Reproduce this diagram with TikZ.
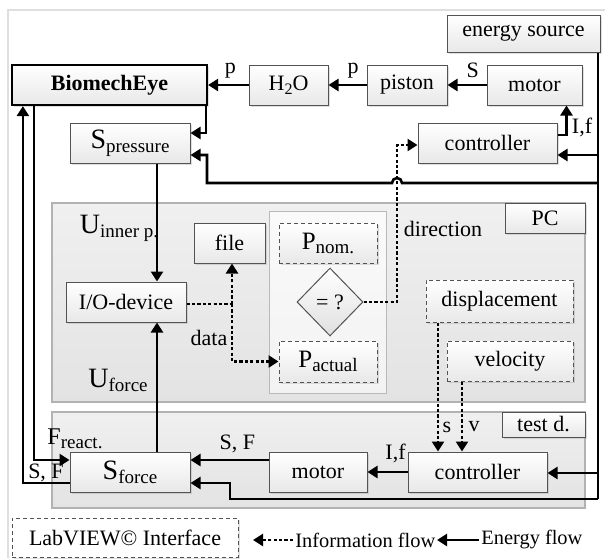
\documentclass[tikz,border=0pt]{standalone}
\usepackage{fontspec}
\setmainfont{Liberation Serif}
\usetikzlibrary{arrows.meta,shapes.geometric,calc,shadows}
\newcommand\mysub[3]{{\fontsize{#1}{#1}\selectfont #2}\raisebox{-2pt}{\fontsize{9.5}{10}\selectfont #3}}
\begin{document}
\begin{tikzpicture}[x=0.5pt,y=-0.5pt,
  box/.style={draw=gray!65!black, line width=0.5pt, top color=white, bottom color=gray!18,
    inner sep=0pt, font=\fontsize{11}{13}\selectfont, minimum height=20pt,
    drop shadow={shadow xshift=0.8pt, shadow yshift=-0.8pt, opacity=0.25, fill=gray}},
  dbox/.style={box, dash pattern=on 2.2pt off 1.3pt},
  region/.style={draw=gray!60, line width=0.6pt, top color=gray!12, bottom color=gray!22, inner sep=0pt},
  en/.style={line width=1.3pt, -{Triangle[length=5pt,width=6pt]}},
  enl/.style={line width=1.3pt},
  inf/.style={line width=1.3pt, dash pattern=on 1.6pt off 1.1pt, -{Triangle[length=5pt,width=6pt]}},
  infl/.style={line width=1.3pt, dash pattern=on 1.6pt off 1.1pt},
  lab/.style={font=\fontsize{11}{13}\selectfont, inner sep=0pt},
  ]
\useasboundingbox (0,0) rectangle (605,558);
\draw[gray!25, line width=0.8pt] (8,558) -- (8,10) -- (605,10);

% regions
\node[region, minimum width=266.5pt, minimum height=99.5pt] (pc) at (318.5,302.5) {};
\node[draw=gray!55, line width=0.5pt, top color=gray!4, bottom color=gray!10, inner sep=0pt,
      minimum width=58.5pt, minimum height=91pt] (panel) at (327.5,302) {};
\node[region, minimum width=266.5pt, minimum height=48pt] (td) at (318.5,460) {};
\node[box, minimum width=40pt, minimum height=15pt] (pclab) at (545,218) {PC};
\node[box, minimum width=41.5pt, minimum height=12.5pt] (tdlab) at (543.5,424.5) {test d.};

% top row
\node[box, minimum width=76.5pt, minimum height=18.5pt] (esrc) at (523.5,33.5) {energy source};
\node[box, draw=black, line width=1.1pt, minimum width=97.5pt, font=\fontsize{11}{13}\selectfont\bfseries] (bio) at (109.5,85) {BiomechEye};
\node[box, minimum width=39.5pt] (h2o) at (288.5,85) {H\raisebox{-1.8pt}{\fontsize{8}{9}\selectfont 2}O};
\node[box, minimum width=40pt] (piston) at (407,85) {piston};
\node[box, minimum width=47.5pt] (motorT) at (534.5,85) {motor};
\node[box, minimum width=60pt] (spress) at (130,143) {\mysub{14}{S}{pressure}};
\node[box, minimum width=69.5pt] (ctrlT) at (487.5,143) {controller};

% PC contents
\node[box, minimum width=60pt] (iodev) at (126,302) {I/O-device};
\node[box, minimum width=35.5pt] (file) at (229.5,243) {file};
\node[dbox, minimum width=49pt] (pnom) at (328,243) {\mysub{12.5}{P}{nom.}};
\node[diamond, draw=gray!65!black, line width=0.5pt, top color=white, bottom color=gray!25,
      inner sep=0pt, minimum width=33pt, minimum height=34pt, font=\fontsize{11}{13}\selectfont] (diam) at (330,302) {= ?};
\node[dbox, minimum width=49pt, minimum height=20.5pt] (pact) at (328,361.5) {\mysub{12.5}{P}{actual}};
\node[dbox, minimum width=73.5pt, minimum height=21pt] (disp) at (499.5,301) {displacement};
\node[dbox, minimum width=63pt] (vel) at (510,361) {velocity};
\node[lab] (uin) at (119,228) {\mysub{14}{U}{inner p.}};
\node[lab] (ufo) at (118,380) {\mysub{14}{U}{force}};

% test device contents
\node[box, minimum width=60pt] (sforce) at (130,472) {\mysub{14}{S}{force}};
\node[box, minimum width=49pt] (motorB) at (318,472) {motor};
\node[box, minimum width=69.5pt] (ctrlB) at (477.5,472) {controller};

% legend
\node[dbox, minimum width=113pt, minimum height=19.5pt, top color=white, bottom color=white, drop shadow={opacity=0}] (labv) at (125,537.5) {LabVIEW© Interface};

% coordinates
\coordinate (tr) at (598,0);
\coordinate (t1) at (598,155);
\coordinate (t2) at (598,183);
\coordinate (t3) at (598,473);
\coordinate (t4) at (598,499);
\coordinate (b2) at (207,155);
\coordinate (dj) at (232,304);
\coordinate (dk) at (397,145);
\coordinate (sx) at (438,0);
\coordinate (vx) at (462,0);

% energy flow
\draw[en] (h2o.west) -- (bio.east) node[lab, pos=0.45, above=3pt] {p};
\draw[en] (piston.west) -- (h2o.east) node[lab, pos=0.35, above=3pt] {p};
\draw[en] (motorT.west) -- (piston.east) node[lab, pos=0.35, above=3pt] {S};
\draw[en] ([yshift=4pt]ctrlT.east) -| ([xshift=16pt]motorT.south);
\node[lab] at (582,127) {I,f};
\draw[enl] (esrc.south -| tr) -- (t4);
\draw[en] (t1) -- (t1 -| ctrlT.east);
\draw[en] (t2) -- (402,183) arc[start angle=0, end angle=180, radius=2.5pt] -- (207,183) -- (b2) -- (b2 -| spress.east);
\draw[en] ([xshift=-1pt]bio.south east) |- ([yshift=5pt]spress.east);
\draw[en] ([xshift=13.5pt]spress.south) -- ([xshift=13.5pt]spress.south |- iodev.north);
\draw[en] ([xshift=13.5pt]sforce.north) -- ([xshift=13.5pt]sforce.north |- iodev.south);
\draw[en] (t3) -- (t3 -| ctrlB.east);
\draw[en] (ctrlB.west) -- (motorB.east) node[lab, pos=0.3, above=4pt] {I,f};
\draw[en] ([yshift=6pt]motorB.west) -- ([yshift=6pt]sforce.east) node[lab, pos=0.4, above=3pt] {S, F};
\draw[en] (t4) -- (230,499) -- (230,483) -- ([yshift=-5.5pt]sforce.east);
\draw[en] ([xshift=11.5pt]bio.south west) |- ([yshift=6pt]sforce.west);
\draw[en] ([yshift=-5.5pt]sforce.west) -| ([xshift=6pt]bio.south west);
\node[lab] at (75,439) {\mysub{12}{F}{react.}};
\node[lab] at (46,473) {S, F};

% information flow
\draw[infl] ([yshift=-1pt]iodev.east) -- (dj);
\draw[inf] (dj) -- (dj |- file.south);
\draw[inf] (dj) |- (pact.west);
\node[lab] at (209,338) {data};
\draw[inf] (diam.east) -| (dk) -- (dk -| ctrlT.west);
\node[lab] at (443,229) {direction};
\draw[inf] (disp.south -| sx) -- (ctrlB.north -| sx);
\draw[inf] (vel.south -| vx) -- (ctrlB.north -| vx);
\node[lab] at (447,427) {s};
\node[lab] at (474,427) {v};

% legend arrows
\coordinate (li1) at (293,540);
\coordinate (li0) at (253,540);
\draw[inf] (li1) -- (li0);
\node[lab, anchor=west, font=\fontsize{10.2}{12}\selectfont] at (295,540) {Information flow};
\coordinate (le1) at (479,540);
\coordinate (le0) at (437,540);
\draw[en] (le1) -- (le0);
\node[lab, anchor=west, font=\fontsize{10.2}{12}\selectfont] at (481,540) {Energy flow};
\end{tikzpicture}
\end{document}
